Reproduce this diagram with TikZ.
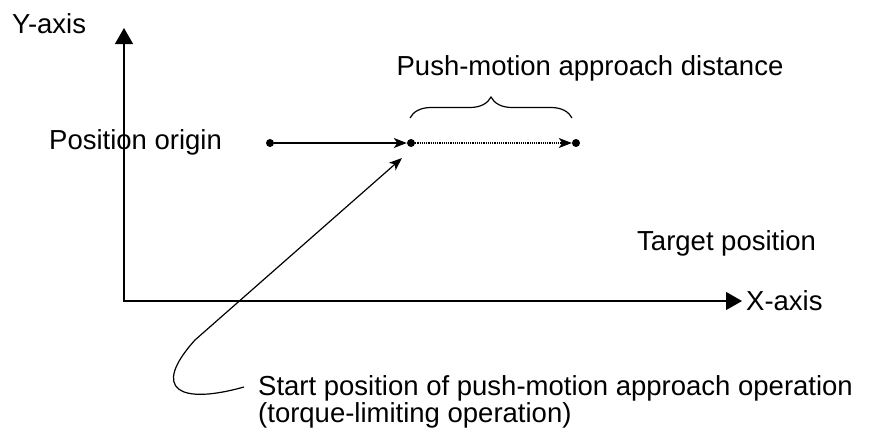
\documentclass[tikz,border=0pt]{standalone}
\usepackage{fontspec}
\setmainfont{Liberation Sans}
\usetikzlibrary{arrows.meta,decorations.pathreplacing,calc}
\begin{document}
\begin{tikzpicture}[x=1pt,y=-1pt,
  lbl/.style={font=\fontsize{27.5}{30}\selectfont, inner sep=0pt, anchor=base west},
  dotnode/.style={circle,fill=black,inner sep=0pt,minimum size=8pt},
  axisline/.style={line width=1.2pt},
  mv/.style={line width=1.2pt,-{Stealth[length=13pt,width=10pt,inset=3.5pt]}},
  dotline/.style={line width=1.3pt,dash pattern=on 1.1pt off 1.1pt},
]
\useasboundingbox (0,0) rectangle (878,439);
% axes
\coordinate (ytip) at (124,28);
\coordinate (xtip) at (742,301);
\draw[axisline,{Triangle[length=16pt,width=18pt]}-{Triangle[length=16pt,width=18pt]}] (ytip) |- (xtip);
% labels
\node[lbl] (ylab) at (12,33) {Y-axis};
\node[lbl] (xlab) at (746,310) {X-axis};
\node[lbl] (porig) at (49,149) {Position origin};
\node[lbl, anchor=base] (pad) at (590,75) {Push-motion approach distance};
\node[lbl] (tgt) at (637,250) {Target position};
\node[lbl] (spos) at (258,395) {Start position of push-motion approach operation};
\node[lbl] (spos2) at (258,422) {(torque-limiting operation)};
% points
\node[dotnode] (p0) at (270,143) {};
\node[dotnode] (p1) at (411,143) {};
\node[dotnode] (p2) at (576,143) {};
\draw[mv] (p0) -- (p1);
\draw[mv,dotline] (p1) -- (p2);
% brace
\coordinate (bl) at (410,118);
\coordinate (br) at (572,118);
\draw[line width=1.2pt,decorate,decoration={brace,amplitude=21pt}] (bl) -- (br);
% curved leader
\coordinate (cs) at ($(spos.base west)+(-14,-8)$);
\coordinate (ce) at (402,158);
\draw[mv] (cs) .. controls (180,405) and (150,390) .. (195,340) -- (ce);
\end{tikzpicture}
\end{document}
